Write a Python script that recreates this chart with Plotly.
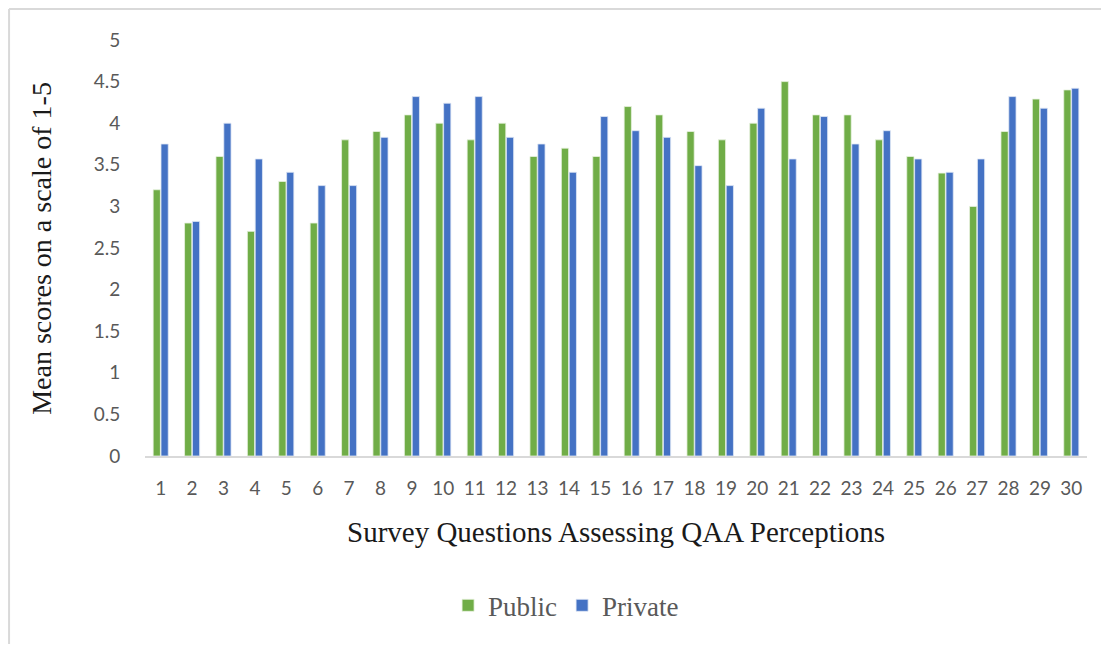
import plotly.graph_objects as go

questions = [str(i) for i in range(1, 31)]
public = [3.2, 2.8, 3.6, 2.7, 3.3, 2.8, 3.8, 3.9, 4.1, 4.0,
          3.8, 4.0, 3.6, 3.7, 3.6, 4.2, 4.1, 3.9, 3.8, 4.0,
          4.5, 4.1, 4.1, 3.8, 3.6, 3.4, 3.0, 3.9, 4.29, 4.4]
private = [3.75, 2.82, 4.0, 3.57, 3.41, 3.25, 3.25, 3.83, 4.32, 4.24,
           4.32, 3.83, 3.75, 3.41, 4.08, 3.91, 3.83, 3.49, 3.25, 4.18,
           3.57, 4.08, 3.75, 3.91, 3.57, 3.41, 3.57, 4.32, 4.18, 4.42]
y_ticks = [0, 0.5, 1, 1.5, 2, 2.5, 3, 3.5, 4, 4.5, 5]
y_tick_text = ["0", "0.5", "1", "1.5", "2", "2.5", "3", "3.5", "4", "4.5", "5"]

GREEN = "#70AD47"
BLUE = "#4472C4"
SERIF = "Liberation Serif"
SANS = "Lato"

fig = go.Figure()
fig.add_trace(go.Bar(x=questions, y=public, name="Public",
                     marker=dict(color=GREEN, line=dict(color="#e8f2e0", width=0.8))))
fig.add_trace(go.Bar(x=questions, y=private, name="Private",
                     marker=dict(color=BLUE, line=dict(color="#dfe7f5", width=0.8))))

fig.update_layout(
    width=1109, height=645,
    margin=dict(l=137, r=30, t=32, b=197, autoexpand=False),
    paper_bgcolor="white", plot_bgcolor="white",
    barmode="group", bargap=0.5, bargroupgap=0.08,
    showlegend=True,
    legend=dict(orientation="h", x=0.447, y=-0.36, xanchor="center", yanchor="middle",
                font=dict(family=SERIF, size=27, color="#595959"),
                itemwidth=30, traceorder="normal"),
    xaxis=dict(type="category", showgrid=False, zeroline=False,
               showline=True, linecolor="#d9d9d9", linewidth=2,
               ticks="outside", ticklen=14, tickcolor="rgba(0,0,0,0)",
               tickfont=dict(family=SANS, size=19, color="#595959"),
               fixedrange=True),
    yaxis=dict(range=[0, 5], tickvals=y_ticks, ticktext=y_tick_text,
               showgrid=False, zeroline=False, showline=False,
               ticks="outside", ticklen=20, tickcolor="rgba(0,0,0,0)",
               tickfont=dict(family=SANS, size=19, color="#595959"),
               fixedrange=True),
    annotations=[
        dict(text="Survey Questions Assessing QAA Perceptions", xref="paper", yref="paper",
             x=0.5, y=-0.183, xanchor="center", yanchor="middle", showarrow=False,
             font=dict(family=SERIF, size=29, color="#1a1a1a")),
        dict(text="Mean scores on a scale of 1-5", xref="paper", yref="paper",
             x=-0.1093, y=0.498, xanchor="center", yanchor="middle", showarrow=False,
             textangle=-90, font=dict(family=SERIF, size=28, color="#1a1a1a")),
    ],
    shapes=[
        dict(type="line", xref="paper", yref="paper", x0=-0.1443, x1=1.04,
             y0=1.0745, y1=1.0745, line=dict(color="#d9d9d9", width=2)),
        dict(type="line", xref="paper", yref="paper", x0=-0.1443, x1=-0.1443,
             y0=1.0745, y1=-0.452, line=dict(color="#d9d9d9", width=2)),
    ],
)

fig.write_html("out.html")
